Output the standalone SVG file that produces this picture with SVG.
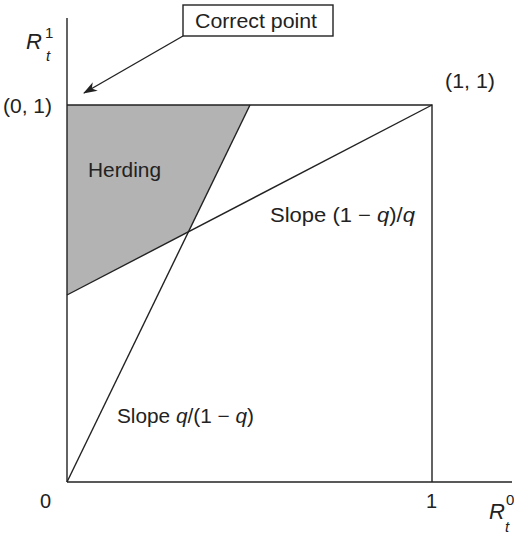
<svg xmlns="http://www.w3.org/2000/svg" width="514" height="535" viewBox="0 0 514 535">
<style>
text{font-family:"Liberation Sans",Arial,sans-serif;font-size:20px;fill:#222}
.it{font-style:italic}
.big{font-size:22px}
.sm{font-size:15px}
.ln{stroke:#222;stroke-width:1.4;fill:none}
</style>
<defs>
<marker id="ah" markerWidth="14" markerHeight="10" refX="13" refY="5" orient="auto" markerUnits="userSpaceOnUse">
<path d="M0,0 L14,5 L0,10 L4,5 Z" fill="#222"/>
</marker>
</defs>
<rect width="514" height="535" fill="#fff"/>
<g id="herding-region">
<polygon points="67,105 250,105 188.9,231.6 67,295" fill="#b3b3b3"/>
<text x="88" y="177" textLength="73" lengthAdjust="spacingAndGlyphs">Herding</text>
</g>
<g id="connectors">
<line class="ln" x1="67" y1="18" x2="67" y2="482"/>
<line class="ln" x1="67" y1="482" x2="512" y2="482"/>
<polyline class="ln" points="67,105 432,105 432,482"/>
<line class="ln" x1="67" y1="482" x2="250" y2="105"/>
<line class="ln" x1="67" y1="295" x2="432" y2="105"/>
<line class="ln" x1="183" y1="36" x2="84" y2="93" marker-end="url(#ah)"/>
</g>
<g id="correct-point">
<rect x="183" y="5" width="150" height="31" fill="#fff" stroke="#222" stroke-width="1.4"/>
<text x="195" y="28" textLength="122" lengthAdjust="spacingAndGlyphs">Correct point</text>
</g>
<g id="labels">
<text x="3" y="113" textLength="49" lengthAdjust="spacingAndGlyphs">(0, 1)</text>
<text x="445" y="88" textLength="50" lengthAdjust="spacingAndGlyphs">(1, 1)</text>
<text x="40" y="508">0</text>
<text x="426" y="508">1</text>
<text x="270" y="222" textLength="145" lengthAdjust="spacingAndGlyphs">Slope (1 − <tspan class="it">q</tspan>)/<tspan class="it">q</tspan></text>
<text x="117" y="423" textLength="137" lengthAdjust="spacingAndGlyphs">Slope <tspan class="it">q</tspan>/(1 − <tspan class="it">q</tspan>)</text>
</g>
<g id="axis-y-label">
<text class="it big" x="26" y="49">R</text>
<text class="sm" x="45" y="38">1</text>
<text class="it sm" x="46" y="61">t</text>
</g>
<g id="axis-x-label">
<text class="it big" x="489" y="519">R</text>
<text class="sm" x="506" y="505">0</text>
<text class="it sm" x="505" y="532">t</text>
</g>
</svg>
